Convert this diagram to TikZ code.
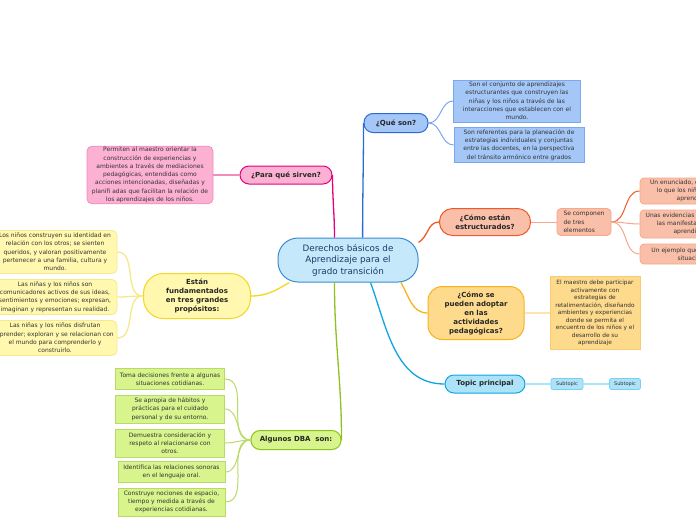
\documentclass[tikz,border=0pt]{standalone}
\usepackage{fontspec}
\setmainfont{DejaVu Sans}
\usepackage{xcolor}
\usepackage{tikz}

\definecolor{rootfill}{HTML}{C5E9FA}
\definecolor{rootdraw}{HTML}{3B8BD0}
\definecolor{roottext}{HTML}{1E3A6B}
\definecolor{bluefill}{HTML}{A4C7F8}
\definecolor{bluedraw}{HTML}{2C6BD3}
\definecolor{blueleaf}{HTML}{7AA8EE}
\definecolor{pinkfill}{HTML}{FCB1D3}
\definecolor{pinkdraw}{HTML}{E5007E}
\definecolor{pinkleaf}{HTML}{F08CBE}
\definecolor{redfill}{HTML}{F9BFA9}
\definecolor{reddraw}{HTML}{F05A28}
\definecolor{redleaf}{HTML}{F5A88C}
\definecolor{goldfill}{HTML}{FEDA8C}
\definecolor{golddraw}{HTML}{F8B21C}
\definecolor{goldleaf}{HTML}{F8CB73}
\definecolor{cyanfill}{HTML}{ACE3F8}
\definecolor{cyandraw}{HTML}{10A4E0}
\definecolor{cyanleaf}{HTML}{79CFF0}
\definecolor{lemonfill}{HTML}{FFF8AE}
\definecolor{lemondraw}{HTML}{F1D71E}
\definecolor{lemonleaf}{HTML}{F6E98C}
\definecolor{limefill}{HTML}{D8F48C}
\definecolor{limedraw}{HTML}{8DC21F}
\definecolor{limeleaf}{HTML}{B7DB66}

\newcommand{\leaffont}{\fontsize{6}{8.3}\selectfont}
\newcommand{\topicfont}{\fontsize{7}{9}\selectfont\bfseries}
\newcommand{\rootfont}{\fontsize{8.8}{11.5}\selectfont}

\begin{document}
\begin{tikzpicture}[x=1pt, y=-1pt,
    topic/.style={rectangle, line width=1pt, align=center, font=\topicfont, text=black!85, inner sep=1pt},
    leaf/.style={rectangle, line width=0.8pt, align=center, font=\leaffont, text=black!80, inner sep=1pt},
    branch/.style={line width=1.3pt},
    twig/.style={line width=1pt}]
    \useasboundingbox (0,0) rectangle (696,520);
    \clip (0,0) rectangle (696,520);

    \node (central) [rectangle, rounded corners=20, line width=1pt, draw=rootdraw, fill=rootfill, text=roottext, font=\rootfont, align=center, minimum width=140, minimum height=44] at (348, 260) {Derechos básicos de\\Aprendizaje para el\\grado transición};

    \node (queson) [topic, rounded corners=9, draw=bluedraw, fill=bluefill, minimum width=64, minimum height=19] at (396, 123) {¿Qué son?};
    \node (queson1) [leaf, draw=blueleaf, fill=bluefill, minimum width=127, minimum height=42] at (517, 101) {Son el conjunto de aprendizajes\\estructurantes que construyen las\\niñas y los niños a través de las\\interacciones que establecen con el\\mundo.};
    \node (queson2) [leaf, draw=blueleaf, fill=bluefill, minimum width=130, minimum height=35] at (519, 145) {Son referentes para la planeación de\\estrategias individuales y conjuntas\\entre las docentes, en la perspectiva\\del tránsito armónico entre grados};

    \node (paraque) [topic, rounded corners=9, draw=pinkdraw, fill=pinkfill, minimum width=92, minimum height=18] at (286, 175) {¿Para qué sirven?};
    \node (paraque1) [leaf, rounded corners=5, draw=pinkleaf, fill=pinkfill, minimum width=126, minimum height=57] at (150, 175) {Permiten al maestro orientar la\\construcción de experiencias y\\ambientes a través de mediaciones\\pedagógicas, entendidas como\\acciones intencionadas, diseñadas y\\planifi adas que facilitan la relación de\\los aprendizajes de los niños.};

    \node (comoestan) [topic, rounded corners=13, draw=reddraw, fill=redfill, minimum width=91, minimum height=27] at (485, 222) {¿Cómo están\\estructurados?};
    \node (compon) [leaf, rounded corners=4, draw=redleaf, fill=redfill, align=left, minimum width=54, minimum height=27] at (584, 222) {Se componen\\de tres\\elementos\hspace{12pt}};
    \node (elem1) [leaf, rounded corners=4, draw=redleaf, fill=redfill, minimum width=104, minimum height=26] at (692, 191) {Un enunciado, que describe\\lo que los niños y niñas\\aprenden.};
    \node (elem2) [leaf, rounded corners=4, draw=redleaf, fill=redfill, minimum width=104, minimum height=28] at (692, 224) {Unas evidencias que muestran\\las manifestaciones del\\aprendizaje.};
    \node (elem3) [leaf, rounded corners=4, draw=redleaf, fill=redfill, minimum width=104, minimum height=20] at (692, 254) {Un ejemplo que ilustra una\\situación.};

    \node (comoadoptar) [topic, rounded corners=14, draw=golddraw, fill=goldfill, minimum width=96, minimum height=53] at (476, 313) {¿Cómo se\\pueden adoptar\\en las\\actividades\\pedagógicas?};
    \node (adoptar1) [leaf, draw=goldleaf, fill=goldfill, font=\fontsize{5.8}{7.5}\selectfont, minimum width=90, minimum height=73] at (595, 313) {El maestro debe participar\\activamente con\\estrategias de\\retalimentación, diseñando\\ambientes y experiencias\\donde se permita el\\encuentro de los niños y el\\desarrollo de su\\aprendizaje};

    \node (topic) [topic, rounded corners=9, draw=cyandraw, fill=cyanfill, minimum width=80, minimum height=18] at (485, 384) {Topic principal};
    \node (sub1) [leaf, rounded corners=2, draw=cyanleaf, fill=cyanfill, font=\fontsize{5}{6}\selectfont, minimum width=32, minimum height=11] at (567, 384) {Subtopic};
    \node (sub2) [leaf, rounded corners=2, draw=cyanleaf, fill=cyanfill, font=\fontsize{5}{6}\selectfont, minimum width=31, minimum height=11] at (625, 384) {Subtopic};

    \node (fundamentos) [topic, rounded corners=20, draw=lemondraw, fill=lemonfill, minimum width=107, minimum height=45] at (197, 296) {Están\\fundamentados\\en tres grandes\\propósitos:};
    \node (prop1) [leaf, rounded corners=5, draw=lemonleaf, fill=lemonfill, minimum width=124, minimum height=43] at (55, 252) {Los niños construyen su identidad en\\relación con los otros; se sienten\\queridos, y valoran positivamente\\pertenecer a una familia, cultura y\\mundo.};
    \node (prop2) [leaf, rounded corners=5, draw=lemonleaf, fill=lemonfill, minimum width=124, minimum height=35] at (55, 297) {Las niñas y los niños son\\comunicadores activos de sus ideas,\\sentimientos y emociones; expresan,\\imaginan y representan su realidad.};
    \node (prop3) [leaf, rounded corners=5, draw=lemonleaf, fill=lemonfill, minimum width=124, minimum height=35] at (55, 338) {Las niñas y los niños disfrutan\\aprender; exploran y se relacionan con\\el mundo para comprenderlo y\\construirlo.};

    \node (dba) [topic, rounded corners=9, draw=limedraw, fill=limefill, minimum width=90, minimum height=19] at (296, 440) {Algunos DBA\ \ son:};
    \node (dba1) [leaf, draw=limeleaf, fill=limefill, minimum width=109, minimum height=21] at (170, 379) {Toma decisiones frente a algunas\\situaciones cotidianas.};
    \node (dba2) [leaf, draw=limeleaf, fill=limefill, minimum width=109, minimum height=28] at (170, 409) {Se apropia de hábitos y\\prácticas para el cuidado\\personal y de su entorno.};
    \node (dba3) [leaf, draw=limeleaf, fill=limefill, minimum width=109, minimum height=28] at (170, 443) {Demuestra consideración y\\respeto al relacionarse con\\otros.};
    \node (dba4) [leaf, draw=limeleaf, fill=limefill, minimum width=107, minimum height=21] at (171.5, 472) {Identifica las relaciones sonoras\\en el lenguaje oral.};
    \node (dba5) [leaf, draw=limeleaf, fill=limefill, minimum width=107, minimum height=28] at (171.5, 502) {Construye nociones de espacio,\\tiempo y medida a través de\\experiencias cotidianas.};

    % ramas principales
    \draw [branch, draw=bluedraw] (central.57) edge[out=90, in=-90] (queson.west);
    \draw [branch, draw=pinkdraw] (central.121) edge[out=90, in=-90] (paraque.east);
    \draw [branch, draw=reddraw] (central.14) edge[out=30, in=180] (comoestan.west);
    \draw [branch, draw=golddraw] (central.337) edge[out=-60, in=180] (comoadoptar.west);
    \draw [branch, draw=cyandraw] (central.315) edge[out=-70, in=180] (topic.west);
    \draw [branch, draw=lemondraw] (central.201) edge[out=-150, in=0] (fundamentos.east);
    \draw [branch, draw=limedraw] (central.239) edge[out=-90, in=90] (dba.east);

    % subtemas
    \draw [twig, draw=blueleaf] (queson.east) edge[out=0, in=180] (queson1.west);
    \draw [twig, draw=blueleaf] (queson.east) edge[out=0, in=180] (queson2.west);
    \draw [twig, line width=2pt, draw=pinkleaf] (paraque.west) edge (paraque1.east);
    \draw [twig, draw=redleaf] (comoestan.east) edge (compon.west);
    \draw [twig, draw=reddraw] (compon.east) edge[out=0, in=180] (elem1.west);
    \draw [twig, draw=redleaf] (compon.east) edge[out=0, in=180] (elem2.west);
    \draw [twig, draw=redleaf] (compon.east) edge[out=0, in=180] (elem3.west);
    \draw [twig, line width=2.5pt, draw=goldfill!70] (comoadoptar.east) edge (adoptar1.west);
    \draw [twig, line width=2pt, draw=cyanfill] (topic.east) edge (sub1.west);
    \draw [twig, line width=2pt, draw=cyanfill] (sub1.east) edge (sub2.west);
    \draw [twig, line width=1.3pt, draw=lemonleaf] (fundamentos.west) edge[out=180, in=0] (prop1.east);
    \draw [twig, line width=1.3pt, draw=lemonleaf] (fundamentos.west) edge[out=180, in=0] (prop2.east);
    \draw [twig, line width=1.3pt, draw=lemonleaf] (fundamentos.west) edge[out=180, in=0] (prop3.east);
    \foreach \k in {1,...,5}
      \draw [twig, draw=limeleaf] (dba.west) edge[out=180, in=0] (dba\k.east);
  \end{tikzpicture}
\end{document}
